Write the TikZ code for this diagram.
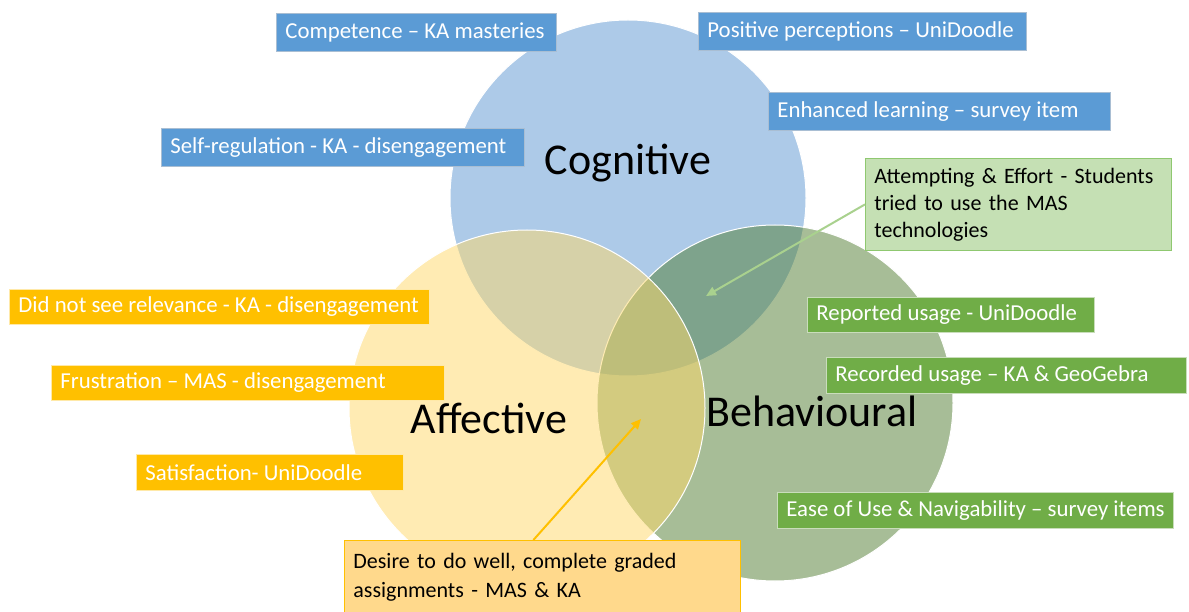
\documentclass[tikz,border=0pt]{standalone}
\usepackage{fontspec}
\setmainfont{Carlito}
\usetikzlibrary{arrows.meta}
\definecolor{cogc}{HTML}{5D97D3}
\definecolor{behc}{HTML}{517D31}
\definecolor{affc}{HTML}{FFD969}
\definecolor{bluebox}{HTML}{5B9BD5}
\definecolor{blueedge}{HTML}{A9BED3}
\definecolor{greenbox}{HTML}{70AD47}
\definecolor{greenedge}{HTML}{C9DDBB}
\definecolor{orangebox}{HTML}{FFC000}
\definecolor{orangeedge}{HTML}{FFE9A8}
\definecolor{attfill}{HTML}{C5E0B4}
\definecolor{attedge}{HTML}{8FC870}
\definecolor{desfill}{HTML}{FFD98C}
\definecolor{arrowgreen}{HTML}{A9D18E}
\newcommand{\boxline}[2]{\makebox[#1][l]{#2}}
\begin{document}
\begin{tikzpicture}[x=1pt,y=-1pt,
  circ/.style={draw=white, line width=1pt, fill opacity=0.5},
  biglabel/.style={font=\fontsize{44}{50}\selectfont, text=black, inner sep=0pt},
  box/.style={rectangle, inner xsep=9pt, inner ysep=0pt, anchor=north west, align=left,
    font=\fontsize{22.8}{27}\selectfont, line width=0.8pt},
  bluebx/.style={box, fill=bluebox, draw=blueedge, text=white},
  greenbx/.style={box, fill=greenbox, draw=greenedge, text=white},
  orangebx/.style={box, fill=orangebox, draw=orangeedge, text=white},
  attbx/.style={box, fill=attfill, draw=attedge, text=black, font=\fontsize{22}{27}\selectfont},
  desbx/.style={box, fill=desfill, draw=orangebox, text=black, font=\fontsize{22}{29}\selectfont},
  arr/.style={-{Triangle[length=10pt,width=9pt]}, line width=2pt}
]
\clip (0,0) rectangle (1189,612);
\fill[white] (0,0) rectangle (1189,612);

% circles
\draw[circ, fill=cogc] (628,198) circle[radius=178pt];
\draw[circ, fill=behc] (775,403) circle[radius=178pt];
\draw[circ, fill=affc] (527,408) circle[radius=178pt];

% circle labels
\node[biglabel] (cog) at (628,163) {Cognitive};
\node[biglabel] (aff) at (489,418) {Affective};
\node[biglabel] (beh) at (812,411) {Behavioural};

% blue boxes
\node[bluebx, minimum height=38pt] (b1) at (276,13) {\boxline{262pt}{Competence – KA masteries}};
\node[bluebx, minimum height=38pt] (b2) at (698,12) {\boxline{310pt}{Positive perceptions – UniDoodle}};
\node[bluebx, minimum height=38pt] (b3) at (768,92) {\boxline{324pt}{Enhanced learning – survey item}};
\node[bluebx, minimum height=38pt] (b4) at (161,128) {\boxline{345pt}{Self-regulation - KA - disengagement}};

% orange boxes
\node[orangebx, minimum height=35pt] (o1) at (9,289) {\boxline{402pt}{Did not see relevance - KA - disengagement}};
\node[orangebx, minimum height=35pt] (o2) at (51,365) {\boxline{375pt}{Frustration – MAS - disengagement}};
\node[orangebx, minimum height=36pt] (o3) at (136,454) {\boxline{249pt}{Satisfaction- UniDoodle}};

% green boxes
\node[greenbx, minimum height=35pt] (g1) at (807,297) {\boxline{269pt}{Reported usage - UniDoodle}};
\node[greenbx, minimum height=36pt] (g2) at (826,357) {\boxline{342pt}{Recorded usage – KA \& GeoGebra}};
\node[greenbx, minimum height=36pt] (g3) at (777,492) {\boxline{378pt}{Ease of Use \& Navigability – survey items}};

% callouts
\node[attbx, minimum height=92pt, text width=288pt] (att) at (865,158)
  {Attempting \& Effort - Students\\tried to use the MAS\\technologies};
\node[desbx, minimum height=74pt, text width=378pt] (des) at (344,540)
  {Desire to do well, complete graded\\assignments - MAS \& KA};

% arrows
\coordinate (gend) at (706,296);
\coordinate (yend) at (641,419);
\draw[arr, arrowgreen] (att.west) -- (gend);
\draw[arr, orangebox] ([xshift=-9pt]des.north) -- (yend);
\end{tikzpicture}
\end{document}
